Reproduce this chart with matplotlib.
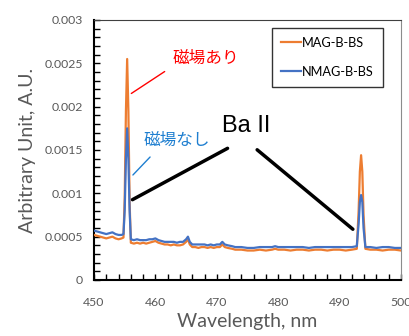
import matplotlib
matplotlib.use("Agg")
import matplotlib.pyplot as plt
from matplotlib.ticker import MultipleLocator, FuncFormatter

# ---- data ----
wavelength = [450.0, 450.5, 451.0, 451.5, 452.0, 452.5, 453.0, 453.5, 454.0, 454.5,
              454.8, 455.0, 455.2, 455.4, 455.6, 455.8, 456.0, 456.5, 457.0, 457.5,
              458.0, 458.5, 459.0, 459.5, 460.0, 460.5, 461.0, 461.5, 462.0, 462.5,
              463.0, 463.5, 464.0, 464.5, 465.0, 465.3, 465.6, 466.0, 466.5, 467.0,
              467.5, 468.0, 468.5, 469.0, 469.5, 470.0, 470.5, 470.9, 471.3, 471.8,
              472.5, 473.0, 474.0, 475.0, 476.0, 477.0, 478.0, 479.0, 479.5, 480.0,
              481.0, 482.0, 483.0, 484.0, 485.0, 486.0, 487.0, 488.0, 489.0, 490.0,
              491.0, 492.0, 492.8, 493.1, 493.3, 493.5, 493.7, 493.9, 494.2, 495.0,
              496.0, 497.0, 498.0, 499.0, 500.0]
mag_b_bs = [0.00052, 0.00051, 0.00050, 0.00049, 0.00048, 0.00049, 0.00050, 0.00048, 0.00047, 0.00048,
            0.00049, 0.00095, 0.00195, 0.00255, 0.00195, 0.00090, 0.00043, 0.00042, 0.00043, 0.00042,
            0.00043, 0.00042, 0.00043, 0.00044, 0.00045, 0.00043, 0.00042, 0.00041, 0.00041, 0.00040,
            0.00041, 0.00040, 0.00040, 0.00041, 0.00044, 0.00047, 0.00041, 0.00038, 0.00038, 0.00037,
            0.00038, 0.00038, 0.00037, 0.00038, 0.00037, 0.00038, 0.00038, 0.00041, 0.00038, 0.00037,
            0.00036, 0.00035, 0.00035, 0.00034, 0.00034, 0.00035, 0.00034, 0.00035, 0.00036, 0.00035,
            0.00035, 0.00034, 0.00035, 0.00035, 0.00034, 0.00035, 0.00035, 0.00034, 0.00035, 0.00035,
            0.00034, 0.00035, 0.00036, 0.00080, 0.00125, 0.00144, 0.00125, 0.00075, 0.00036, 0.00035,
            0.00035, 0.00034, 0.00035, 0.00035, 0.00034]
nmag_b_bs = [0.00057, 0.00056, 0.00055, 0.00054, 0.00053, 0.00054, 0.00055, 0.00053, 0.00052, 0.00052,
             0.00053, 0.00080, 0.00140, 0.00175, 0.00140, 0.00080, 0.00047, 0.00046, 0.00047, 0.00046,
             0.00046, 0.00046, 0.00047, 0.00047, 0.00048, 0.00046, 0.00045, 0.00044, 0.00044, 0.00044,
             0.00044, 0.00043, 0.00044, 0.00044, 0.00047, 0.00050, 0.00044, 0.00041, 0.00041, 0.00041,
             0.00041, 0.00041, 0.00040, 0.00041, 0.00040, 0.00041, 0.00041, 0.00044, 0.00041, 0.00040,
             0.00039, 0.00038, 0.00038, 0.00037, 0.00037, 0.00038, 0.00038, 0.00038, 0.00039, 0.00038,
             0.00038, 0.00038, 0.00038, 0.00038, 0.00037, 0.00038, 0.00038, 0.00038, 0.00038, 0.00038,
             0.00038, 0.00038, 0.00039, 0.00065, 0.00090, 0.00098, 0.00090, 0.00060, 0.00038, 0.00038,
             0.00037, 0.00038, 0.00038, 0.00037, 0.00037]
series_names = ["MAG-B-BS", "NMAG-B-BS"]
x_ticks = [450, 460, 470, 480, 490, 500]
y_ticks = [0, 0.0005, 0.001, 0.0015, 0.002, 0.0025, 0.003]

ORANGE = "#ED7D31"
BLUE = "#4472C4"
GRAY = "#595959"
JP = ["Noto Sans CJK JP", "DejaVu Sans"]

plt.rcParams["font.family"] = ["Lato", "DejaVu Sans"]

fig = plt.figure(figsize=(4.10, 3.36), dpi=100)
ax = fig.add_axes([94/410, 56/336, 307/410, 260/336])

ax.plot(wavelength, mag_b_bs, color=ORANGE, lw=1.6, label=series_names[0], zorder=3)
ax.plot(wavelength, nmag_b_bs, color=BLUE, lw=1.6, label=series_names[1], zorder=4)

ax.set_xlim(450, 500)
ax.set_ylim(0, 0.003)
ax.set_xticks(x_ticks)
ax.set_yticks(y_ticks)
ax.xaxis.set_minor_locator(MultipleLocator(2))
ax.yaxis.set_minor_locator(MultipleLocator(0.0001))
ax.yaxis.set_major_formatter(FuncFormatter(lambda v, p: "0" if v == 0 else ("%g" % v)))
ax.tick_params(which="both", direction="in", length=4, width=1, colors="black",
               labelcolor=GRAY, labelsize=8.8, top=False, right=False)
ax.tick_params(axis="x", pad=12)
ax.tick_params(axis="y", pad=8)

for s in ["left", "bottom"]:
    ax.spines[s].set_color("black")
    ax.spines[s].set_linewidth(1.5)
ax.spines["top"].set_color("#404040")
ax.spines["right"].set_color("#8c8c8c")

ax.set_xlabel("Wavelength, nm", color=GRAY, fontsize=14, labelpad=4)
ax.set_ylabel("Arbitrary Unit, A.U.", color=GRAY, fontsize=14, labelpad=6)

leg = ax.legend(loc="upper right", bbox_to_anchor=(383/410, 1 - 28/336), bbox_transform=fig.transFigure,
                fontsize=9.2, frameon=True, fancybox=False, handlelength=1.6, handletextpad=0.1,
                borderpad=0.7, labelspacing=1.3, borderaxespad=0)
leg.get_frame().set_edgecolor("black")
leg.get_frame().set_linewidth(1.0)

def px(xp, yp):
    return (450 + (xp - 94) / 307 * 50, (280 - yp) / 260 * 0.003)

# annotations
ax.annotate("", xy=px(129, 95), xytext=px(167, 70),
            arrowprops=dict(arrowstyle="-", color="red", lw=1.0))
ax.text(*px(206, 58), "磁場あり", color="red", fontsize=12, family=JP, ha="center", va="center")
ax.annotate("", xy=px(131, 177), xytext=px(152, 155),
            arrowprops=dict(arrowstyle="-", color="#1f7fd0", lw=1.0))
ax.text(*px(177, 140), "磁場なし", color="#1f7fd0", fontsize=12, family=JP, ha="center", va="center")
ax.text(*px(246, 126), "Ba II", color="black", fontsize=17, family=["Liberation Sans", "DejaVu Sans"],
        ha="center", va="center")
ax.annotate("", xy=px(130, 201), xytext=px(230, 147),
            arrowprops=dict(arrowstyle="-", color="black", lw=2.5))
ax.annotate("", xy=px(355, 231), xytext=px(255, 148),
            arrowprops=dict(arrowstyle="-", color="black", lw=2.5))

fig.savefig("out.png", dpi=100)
